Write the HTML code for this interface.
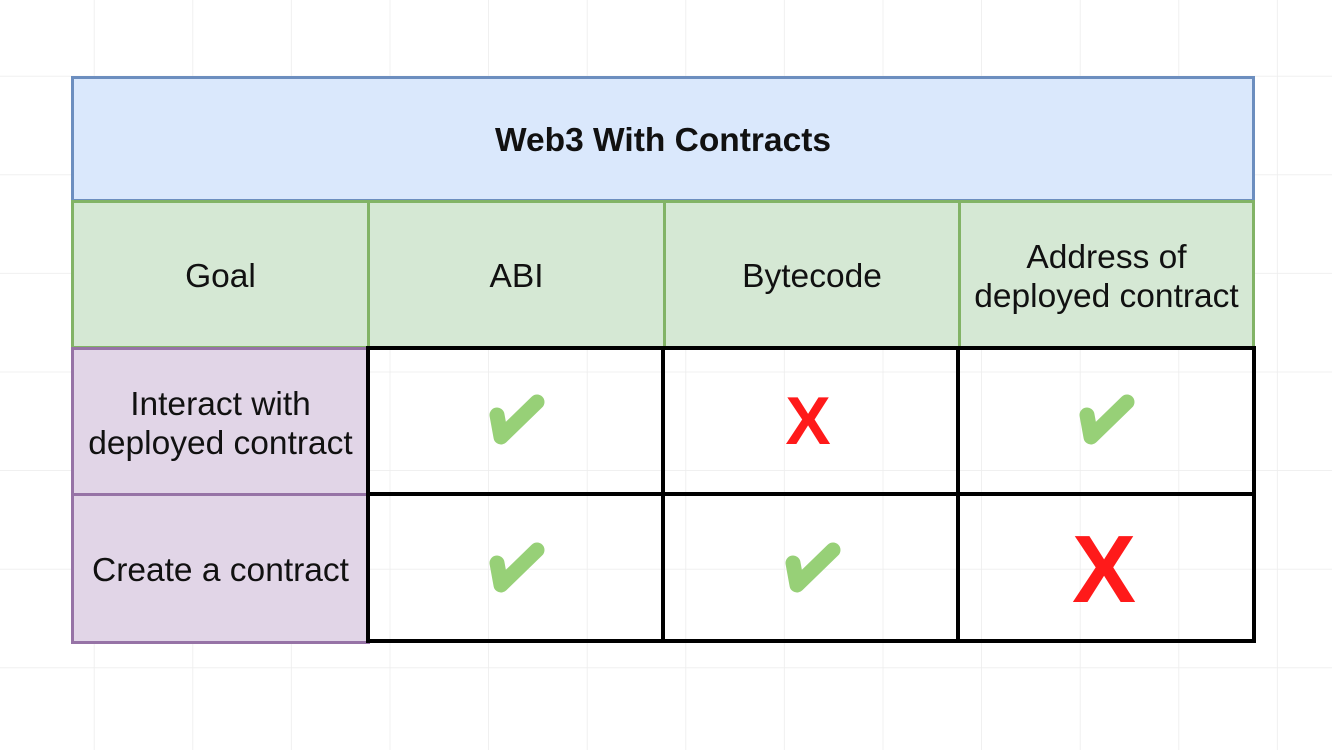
<!DOCTYPE html>
<html><head><meta charset="utf-8"><style>
html,body{margin:0;padding:0;background:#fff}
body{width:1332px;height:750px;overflow:hidden;position:relative;font-family:"Liberation Sans",sans-serif}
.c{position:absolute;box-sizing:border-box;display:flex;align-items:center;justify-content:center;text-align:center;font-size:33.5px;line-height:39px;color:#111;white-space:nowrap}
</style></head><body>
<svg width="1332" height="750" style="position:absolute;left:0;top:0">
<defs><pattern id="g" x="-4" y="-22" width="98.6" height="98.6" patternUnits="userSpaceOnUse"><path d="M98.6 0V98.6M0 98.6H98.6" stroke="#ececec" stroke-width="1.5" fill="none"/></pattern></defs>
<rect width="1332" height="750" fill="url(#g)"/>
</svg>
<div class="c" style="left:71px;top:76px;width:1184px;height:126px;background:#dae8fc;border:3px solid #6c8ebf;font-weight:bold;font-size:33.5px;padding-top:2px">Web3 With Contracts</div>
<div class="c" style="left:71px;top:200px;width:299px;height:149px;background:#d5e8d4;border:3px solid #82b366;padding-top:4px">Goal</div>
<div class="c" style="left:367px;top:200px;width:299px;height:149px;background:#d5e8d4;border:3px solid #82b366;padding-top:4px">ABI</div>
<div class="c" style="left:663px;top:200px;width:298px;height:149px;background:#d5e8d4;border:3px solid #82b366;padding-top:4px">Bytecode</div>
<div class="c" style="left:958px;top:200px;width:297px;height:149px;background:#d5e8d4;border:3px solid #82b366;padding-top:4px">Address of<br>deployed contract</div>
<div class="c" style="left:71px;top:347px;width:299px;height:149px;background:#e1d5e7;border:3px solid #9673a6;padding-top:4px">Interact with<br>deployed contract</div>
<div class="c" style="left:71px;top:493px;width:299px;height:151px;background:#e1d5e7;border:3px solid #9673a6;padding-top:4px">Create a contract</div>
<div class="c" style="left:366px;top:346px;width:890px;height:297px;border:4px solid #000"></div>
<div style="position:absolute;left:366px;top:492px;width:890px;height:4px;background:#000"></div>
<div style="position:absolute;left:661px;top:346px;width:4px;height:297px;background:#000"></div>
<div style="position:absolute;left:956px;top:346px;width:4px;height:297px;background:#000"></div>
<svg width="1332" height="750" style="position:absolute;left:0;top:0">
<g fill="none" stroke="#97d077" stroke-width="15" stroke-linecap="round" stroke-linejoin="round">
<path d="M497 415 L501 437 L537 402"/>
<path d="M497 563 L501 585 L537 550"/>
<path d="M793 563 L797 585 L833 550"/>
<path d="M1087 415 L1091 437 L1127 402"/>
</g>
<text x="808" y="444" text-anchor="middle" font-family="Liberation Sans" font-weight="bold" font-size="68" fill="#ff1a1a">X</text>
<text x="1104" y="602" text-anchor="middle" font-family="Liberation Sans" font-weight="bold" font-size="96" fill="#ff1a1a">X</text>
</svg>
</body></html>
